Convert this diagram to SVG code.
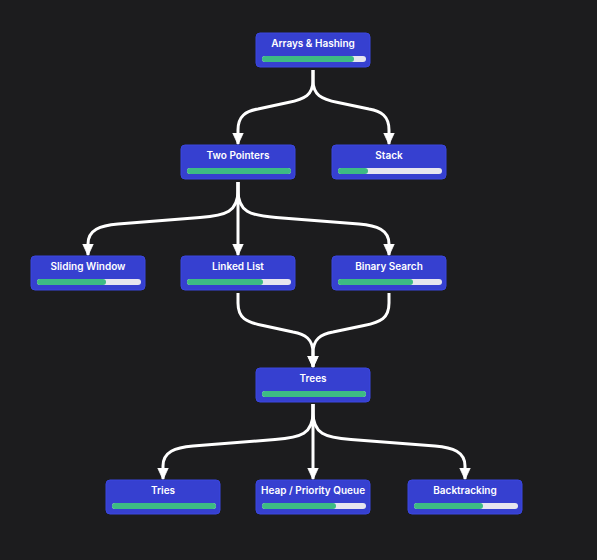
<svg xmlns="http://www.w3.org/2000/svg" width="597" height="560" viewBox="0 0 597 560">
<defs>
<style>
.bg{fill:#1c1c1e}
.box{fill:#3640d0;stroke:#3a46e0;stroke-width:1}
.lbl{font-family:Inter,"Liberation Sans",sans-serif;font-weight:600;font-size:10px;fill:#ffffff;text-anchor:middle}
.track{fill:#e6e6ee}
.fill{fill:#3dbb84}
.edge{fill:none;stroke:#ffffff;stroke-width:3;stroke-linejoin:round}
</style>
<marker id="arr" viewBox="0 0 12 12" refX="11.5" refY="6" markerWidth="12" markerHeight="12" orient="auto" markerUnits="userSpaceOnUse">
<path d="M0,0.5 L12,6 L0,11.5 Z" fill="#ffffff" stroke="#ffffff" stroke-width="0.8" stroke-linejoin="round"/>
</marker>
</defs>
<rect class="bg" x="0" y="0" width="597" height="560"/>
<g id="connectors">
<path class="edge" marker-end="url(#arr)" d="M313,70 L313,80 C313,95 305,99 288,102.5 L258,109 C246,111 238,116 238,130 L238,144"/>
<path class="edge" marker-end="url(#arr)" d="M313,70 L313,80 C313,95 321,99 338,102.5 L369,109 C381,111 389,116 389,130 L389,144"/>
<path class="edge" marker-end="url(#arr)" d="M238,182 L238,190 C238,212 226,215.5 200,217.5 L118,224 C100,225.5 88,230 88,244 L88,255"/>
<path class="edge" marker-end="url(#arr)" d="M238,182 L238,255"/>
<path class="edge" marker-end="url(#arr)" d="M238,182 L238,190 C238,212 250,215.5 276,217.5 L359,224 C377,225.5 389,230 389,244 L389,255"/>
<path class="edge" marker-end="url(#arr)" d="M238,293 L238,303 C238,318 246,322 263,325.5 L293,332 C305,334 313,339 313,353 L313,367"/>
<path class="edge" marker-end="url(#arr)" d="M389,293 L389,303 C389,318 381,322 364,325.5 L333,332 C321,334 313,339 313,353 L313,367"/>
<path class="edge" marker-end="url(#arr)" d="M313,404 L313,412 C313,434 301,437.5 275,439.5 L193,446 C175,447.5 163,452 163,466 L163,479"/>
<path class="edge" marker-end="url(#arr)" d="M313,404 L313,479"/>
<path class="edge" marker-end="url(#arr)" d="M313,404 L313,412 C313,434 325,437.5 351,439.5 L435,446 C453,447.5 465,452 465,466 L465,479"/>
</g>
<g id="arrays-hashing">
<rect class="box" x="256" y="33" width="114" height="34" rx="4"/>
<text class="lbl" x="313" y="47">Arrays &amp; Hashing</text>
<rect class="track" x="262" y="56" width="104" height="6" rx="3"/>
<rect class="fill" x="262" y="56" width="92" height="6" rx="3"/>
</g>
<g id="two-pointers">
<rect class="box" x="181" y="145" width="114" height="34" rx="4"/>
<text class="lbl" x="238" y="159">Two Pointers</text>
<rect class="track" x="187" y="168" width="104" height="6" rx="3"/>
<rect class="fill" x="187" y="168" width="104" height="6" rx="3"/>
</g>
<g id="stack">
<rect class="box" x="332" y="145" width="114" height="34" rx="4"/>
<text class="lbl" x="389" y="159">Stack</text>
<rect class="track" x="338" y="168" width="104" height="6" rx="3"/>
<rect class="fill" x="338" y="168" width="30" height="6" rx="3"/>
</g>
<g id="sliding-window">
<rect class="box" x="31" y="256" width="114" height="34" rx="4"/>
<text class="lbl" x="88" y="270">Sliding Window</text>
<rect class="track" x="37" y="279" width="104" height="6" rx="3"/>
<rect class="fill" x="37" y="279" width="69" height="6" rx="3"/>
</g>
<g id="linked-list">
<rect class="box" x="181" y="256" width="114" height="34" rx="4"/>
<text class="lbl" x="238" y="270">Linked List</text>
<rect class="track" x="187" y="279" width="104" height="6" rx="3"/>
<rect class="fill" x="187" y="279" width="76" height="6" rx="3"/>
</g>
<g id="binary-search">
<rect class="box" x="332" y="256" width="114" height="34" rx="4"/>
<text class="lbl" x="389" y="270">Binary Search</text>
<rect class="track" x="338" y="279" width="104" height="6" rx="3"/>
<rect class="fill" x="338" y="279" width="75" height="6" rx="3"/>
</g>
<g id="trees">
<rect class="box" x="256" y="368" width="114" height="34" rx="4"/>
<text class="lbl" x="313" y="382">Trees</text>
<rect class="track" x="262" y="391" width="104" height="6" rx="3"/>
<rect class="fill" x="262" y="391" width="104" height="6" rx="3"/>
</g>
<g id="tries">
<rect class="box" x="106" y="480" width="114" height="34" rx="4"/>
<text class="lbl" x="163" y="494">Tries</text>
<rect class="track" x="112" y="503" width="104" height="6" rx="3"/>
<rect class="fill" x="112" y="503" width="104" height="6" rx="3"/>
</g>
<g id="heap">
<rect class="box" x="256" y="480" width="114" height="34" rx="4"/>
<text class="lbl" x="313" y="494">Heap / Priority Queue</text>
<rect class="track" x="262" y="503" width="104" height="6" rx="3"/>
<rect class="fill" x="262" y="503" width="74" height="6" rx="3"/>
</g>
<g id="backtracking">
<rect class="box" x="408" y="480" width="114" height="34" rx="4"/>
<text class="lbl" x="465" y="494">Backtracking</text>
<rect class="track" x="414" y="503" width="104" height="6" rx="3"/>
<rect class="fill" x="414" y="503" width="69" height="6" rx="3"/>
</g>
</svg>
